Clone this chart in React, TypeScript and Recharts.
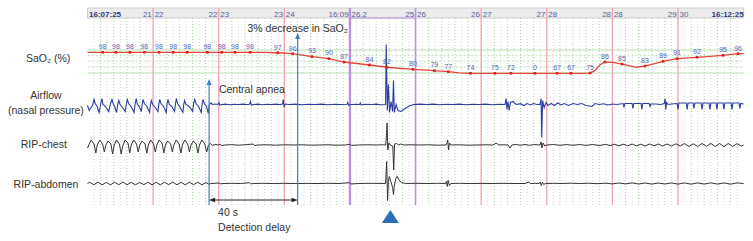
import React from 'react';
import {
  ComposedChart,
  Line,
  XAxis,
  YAxis,
  ReferenceLine,
  ReferenceArea,
  ReferenceDot,
} from 'recharts';

const W = 753;
const H = 241;
const FONT = '"Liberation Sans", Arial, sans-serif';

// ---------- time axis (seconds after 16:07:25) ----------
const T_END = 300;
const epochTimes = [30, 60, 90, 120, 150, 180, 210, 240, 270];
const epochLeftLabels = ['21', '22', '23', '16:09', '25', '26', '27', '28', '29'];
const epochRightLabels = ['22', '23', '24', '26.2', '26', '27', '28', '28', '30'];
const selectedEpoch = [120, 150];
const startClock = '16:07:25';
const endClock = '16:12:25';

// ---------- SaO2 (%) ----------
const saoTimes = [
  6.95, 13.0, 19.4, 26.0, 32.7, 39.2, 45.6, 54.8, 61.4, 67.4, 74.3,
  87.0, 93.8, 102.7, 110.4, 117.3, 128.9, 136.9, 148.8, 158.6, 165.0, 175.1,
  186.3, 193.6, 204.6, 214.7, 221.1, 229.8, 236.6, 244.4, 254.9, 263.2, 269.6,
  278.7, 290.6, 297.5,
];
const saoLabels = [
  '98', '98', '98', '98', '98', '98', '98', '98', '98', '98', '98',
  '97', '96', '93', '90', '87', '84', '82', '80', '79', '77', '74',
  '75', '72', '0', '67', '67', '75', '86', '85', '83', '89', '91',
  '92', '95', '96',
];
const saoLevels = [
  98, 98, 98, 98, 98, 98, 98, 98, 98, 98, 98,
  97.5, 96.4, 93, 90.7, 86.9, 83.5, 80.9, 78.6, 77, 75.8, 74,
  74, 74, 74, 74, 74, 74.3, 86.9, 84.6, 82.3, 87.7, 90.7,
  92.3, 94.6, 96.4,
];
const saoExtraTimes = [0, 80, 170, 226, 232, 234.5, 240, 251, 300];
const saoExtraLevels = [98, 98, 74.4, 74, 77, 84, 86.5, 80.9, 96.6];

// ---------- waveforms: [time s, deflection] ----------
const airflow: [number, number][] = [
  [0, -1], [0.8, -6], [1.6, -3],
  [2.3, -1], [3.0, 5], [3.5, 1], [4.4, -2], [5.3, -8],
  [6.0, 0], [6.6, 6], [7.1, 0], [8.2, -2], [9.7, -7],
  [10.5, 1], [11.2, 5], [11.7, 1], [12.4, -2], [13.3, -8],
  [13.8, 0], [14.3, 4], [14.9, 0], [16.0, -3], [17.3, -7],
  [17.7, 0], [18.2, 5], [18.8, 1], [19.9, -2], [21.3, -8],
  [21.8, 1], [22.3, 6], [22.8, 0], [23.7, -2], [24.6, -7],
  [25.0, 0], [25.4, 5], [26.0, 1], [27.2, -2], [28.4, -8],
  [28.8, 0], [29.2, 4], [29.8, 0], [31.0, -3], [32.2, -7],
  [32.6, 0], [33.0, 5], [33.6, 1], [34.8, -2], [36.0, -8],
  [36.4, 1], [36.8, 5], [37.4, 0], [38.6, -2], [39.8, -7],
  [40.2, 0], [40.6, 6], [41.2, 1], [42.4, -3], [43.6, -8],
  [44.0, 0], [44.4, 4], [45.0, 0], [46.5, -2], [48.1, -7],
  [48.5, 1], [49.0, 5], [49.6, 1], [50.8, -2], [52.0, -8],
  [52.4, 0], [52.8, 5], [53.4, 1], [54.4, -2], [55.3, -9],
  [55.7, 0], [56.4, 1.5], [57.2, 0], [58.5, 0.5], [59.6, 0], [60.1, 2], [60.5, -0.5],
  [61.5, 0], [63, 0.4], [65, -0.3], [67, 0.3], [69, 0], [71, 0.4], [73, 0],
  [74.1, 0.3], [74.5, 3], [74.9, -0.5], [76, 0], [78, 0.4], [80, -0.3], [82, 0.3],
  [84, 0], [86, 0.4], [88, 0], [89.2, 0.5], [89.5, 5], [89.9, -2], [90.5, 0.5],
  [92, 0], [95, 0.4], [98, -0.3], [101, 0.3], [104, 0], [107, 0.4], [110, -0.3],
  [113, 0.3], [116, 0], [118.7, 0.3], [119, 2], [119.4, -0.5], [120.5, 0], [123, 0.3],
  [124.4, 0], [124.7, 1.5], [125.1, -0.3], [127, 0.3], [130, 0], [132, 0.4], [134, -0.2],
  [136.3, 0], [136.6, 60], [137.1, -6], [137.6, 20], [138.1, -8], [138.8, 3],
  [139.5, -7], [139.9, 24], [140.3, -8], [141.1, 0], [142.0, -6], [143.3, -7],
  [145.2, -4], [147.5, -1], [149.3, 0],
  [152, 0.4], [155, 0], [158, 0.4], [161, -0.3], [164, 0.3], [167, 0], [170, 0.4],
  [173, -0.3], [176, 0.3], [179, 0], [182, 0.4], [185, -0.3], [188, 0.3],
  [190.9, 0], [191.4, 6], [191.8, -5], [192.3, 3], [192.8, -6], [193.4, 2],
  [194.6, 3], [196, 0], [198, 0.8], [199.5, -1], [201, 1], [202.5, -0.5], [204, 1],
  [205.5, 0], [206.9, 0], [207.4, 6], [207.7, -33], [208.1, 4], [208.8, -3],
  [209.7, 2], [210.6, -1], [212, 1], [213.5, -1], [215, 1.5], [216.5, -0.5],
  [218, 1], [220, -1], [222, 1], [224, 0], [226, 1], [228, -1], [230.7, -2],
  [232, 1], [234, 0], [236, 0.8], [238, -0.5], [240, 0.5], [242, 0],
  [244.9, 1], [245.3, -3], [245.7, 1], [249.0, 1], [249.4, -4], [249.8, 1],
  [253.1, 1], [253.5, -5], [253.9, 1], [256.8, 1], [257.2, -2], [257.6, 0.5],
  [260, 0.5], [262, 0], [263.7, 1], [264.1, 6], [264.4, -5], [264.8, 2], [265.5, 0],
  [267, 0.5], [269.6, 1], [270, -5], [270.4, 1.5], [273.8, 1.5], [274.2, -5],
  [274.6, 1.5], [276.9, 1.5], [277.3, -4], [277.7, 1.5], [280.6, 1.5], [281, -5],
  [281.4, 1.5], [284.2, 1.5], [284.6, -5], [285, 1.5], [287.4, 1.5], [287.8, -5],
  [288.2, 1.5], [290.6, 1.5], [291, -5], [291.4, 1.5], [294.3, 1.5], [294.7, -5],
  [295.1, 1.5], [297.9, 1.5], [298.3, -4], [298.7, 1], [300, 0.5],
];

const ripChest: [number, number][] = [
  [0, -3], [0.8, 1],
  [1.7, 5], [3.0, 1], [3.8, -8], [4.5, 0],
  [5.6, 5], [6.9, 1], [7.7, -7], [8.4, 0],
  [9.4, 4], [10.7, 1], [11.5, -9], [12.2, 0],
  [13.3, 5], [14.6, 1], [15.4, -9], [16.1, -1],
  [17.2, 5], [18.5, 2], [19.3, -8], [20.0, 0],
  [21.1, 5], [22.4, 1], [23.2, -7], [23.9, 0],
  [25.0, 4], [26.3, 1], [27.1, -8], [27.8, 0],
  [28.9, 5], [30.2, 1], [31.0, -7], [31.7, 0],
  [32.8, 5], [34.1, 2], [34.9, -8], [35.6, 0],
  [36.7, 4], [38.0, 1], [38.8, -7], [39.5, 0],
  [40.6, 5], [41.9, 1], [42.7, -8], [43.4, 0],
  [44.5, 5], [45.8, 1], [46.6, -7], [47.3, 0],
  [48.4, 4], [49.7, 1], [50.5, -8], [51.2, 0],
  [52.3, 5], [53.6, 1], [54.5, -7], [55.3, 0],
  [56.2, 1.5], [57.2, -0.5], [58.3, 0.5], [60.0, 0], [60.6, 1], [61.2, -0.5], [63, 0],
  [66, 0.3], [69, -0.2], [72, 0.2], [75.7, 1], [76.3, -0.5], [78, 0], [82, 0.2],
  [86, -0.2], [90, 0.2], [94, 0], [98, 0.2], [102, -0.2], [106, 0], [110, 0.2],
  [114, -0.2], [118, 0], [120, 0.8], [120.6, -0.4], [124, 0], [128, 0.2], [132, 0],
  [135, 0.2], [136.4, 0], [137.0, 22], [137.3, -5], [137.8, 2], [138.5, 0],
  [139.6, -1], [140.0, -25], [140.4, 1], [141.3, 1.5], [142.3, 0], [143.2, 1],
  [144.6, 0], [148, 0.2], [152, 0], [156, 0.2], [160, -0.2], [163.9, 0],
  [164.4, 2], [164.7, 5], [165.1, -5], [165.5, 2], [166.2, 0], [170, 0.2],
  [174, -0.2], [178, 0], [182, 0.2], [185.4, 0], [186.8, 2], [188.1, 0], [190, 0.2],
  [192.3, 0], [193.2, -3], [194.1, 0], [196, 0.5], [198, -0.3], [200, 0.5],
  [202, -0.3], [204, 0.4], [206.9, 0], [207.4, 3], [207.8, -3], [208.3, 2],
  [209.1, -1], [210, 0], [213, 0.5], [216, -0.3], [219, 0.4], [222, -0.3],
  [225, 0.5], [228, -0.4], [231, 0.5], [234, -0.5], [237, 0.6], [239, -0.6],
  [241, 0.8], [243, -0.8], [245, 0.8], [247, -0.8], [249, 1], [251, -0.9],
  [253, 0.8], [255, -1], [257, 1], [259, -0.8], [261, 1], [263, -1], [265, 1],
  [267, -1], [269, 1.2], [271, -1], [273, 1.5], [275, -1.5], [277, 1.2],
  [279, -1.5], [281, 1.5], [283, -1.3], [285, 1.6], [287, -1.5], [289, 1.5],
  [291, -1.6], [293, 1.5], [295, -1.5], [297, 1.4], [299, -1], [300, 0],
];

const ripAbdomen: [number, number][] = [
  [0, 0], [1, 1.2], [2.9, -1.2], [4.8, 1.3], [6.7, -1.3], [8.6, 1.1], [10.5, -1.4],
  [12.4, 1.3], [14.3, -1.2], [16.2, 1.4], [18.1, -1.3], [20.0, 1.2], [21.9, -1.4],
  [23.8, 1.2], [25.7, -1.2], [27.6, 1.3], [29.5, -1.3], [31.4, 1.2], [33.3, -1.4],
  [35.2, 1.3], [37.1, -1.2], [39.0, 1.4], [40.9, -1.3], [42.8, 1.2], [44.7, -1.3],
  [46.6, 1.3], [48.5, -1.2], [50.4, 1.3], [52.3, -1.3], [54.2, 1.0], [55.6, -0.8],
  [56.5, 0], [60, 0.5], [60.8, -0.3], [62, 0], [66, 0.2], [70, 0], [74, 0.8],
  [74.6, -0.3], [76, 0], [80, 0.2], [85, 0], [90, 0.2], [95, 0], [100, 0.1],
  [105, 0], [110, 0.2], [115, 0], [119.8, 0.8], [120.4, -0.5], [124, 0], [130, 0.2],
  [136.3, 0], [136.8, 22], [137.2, -17], [137.6, 2], [138.0, 7], [138.6, 3],
  [139.5, -4], [139.9, -11], [140.3, -2], [141.0, 5], [141.6, 7], [142.3, 4],
  [143.5, 1], [145.5, 0], [150, 0.2], [155, 0], [160, 0.2], [163.7, 0], [164.1, 2],
  [164.5, -3], [164.9, 3], [165.5, -2], [166.2, 0], [170, 0.2], [175, 0], [180, 0.1],
  [185, 0], [190, 0.2], [195, 0], [200, 0], [201.8, 1.5], [202.5, 0], [205, 0.2],
  [206.5, 0], [207.0, 1.5], [207.5, -2], [208.0, 1.5], [208.6, -1], [209.4, 0],
  [213, 0.2], [217, 0], [221, 0.3], [225, 0], [229, 0.3], [233, -0.2], [237, 0.3],
  [240, -0.4], [243, 0.5], [246, -0.4], [249, 0.6], [252, -0.5], [255, 0.5],
  [258, -0.6], [261, 0.5], [264, -0.5], [267, 0.6], [270, -0.6], [273, 0.6],
  [276, -0.7], [279, 0.6], [282, -0.6], [285, 0.7], [288, -0.6], [291, 0.6],
  [294, -0.7], [297, 0.6], [300, 0],
];

// ---------- annotations ----------
const apneaOnset = 55.6;
const detectionTime = 96.1;
const eventTime = 138.5;

// ---------- layout (rows = px from top, on the frame axis) ----------
const X0_PX = 87.5;
const PX_PER_S = 2.187;
const xDomain = [-X0_PX / PX_PER_S, (W - X0_PX) / PX_PER_S];
const HEADER_TOP = 8;
const HEADER_BOTTOM = 18;
const GRID_BOTTOM = 205;
const AIR_BASE = 104.5;
const CHEST_BASE = 145;
const ABD_BASE = 183.5;
const SAO_ROW_98 = 52.3;
const SAO_PX = 0.875;
const saoHi = 98 + SAO_ROW_98 / SAO_PX;
const saoDomain = [saoHi - H / SAO_PX, saoHi];
const chan = (b: number) => [b - H, b];
const saoSolidRows = [50, 73];
const saoDottedRows = [55.7, 61.3, 67];
const LABEL_T = -19;

const toPts = (a: [number, number][]) => a.map(([t, v]) => ({ t, v }));
const airData = toPts(airflow);
const chestData = toPts(ripChest);
const abdData = toPts(ripAbdomen);
const saoDots = saoTimes.map((t, i) => ({ t, v: saoLevels[i], label: saoLabels[i] }));
const saoTrace = [
  ...saoDots.map((d) => ({ t: d.t, v: d.v })),
  ...saoExtraTimes.map((t, i) => ({ t, v: saoExtraLevels[i] })),
].sort((a, b) => a.t - b.t);

const minorTimes: number[] = [];
for (let t = 3; t < T_END; t += 3) if (t % 30 !== 0) minorTimes.push(t);

type NoteProps = {
  t: number;
  row: number;
  text: string;
  anchor?: 'start' | 'middle' | 'end';
  size?: number;
  color?: string;
  weight?: string;
  k: string;
};
const note = ({ t, row, text, anchor = 'start', size = 10.5, color = '#333', weight = 'normal', k }: NoteProps) => (
  <ReferenceDot
    key={k}
    x={t}
    y={row}
    yAxisId="f"
    r={0}
    ifOverflow="visible"
    shape={(p: any) => (
      <text
        x={p.cx}
        y={p.cy}
        textAnchor={anchor}
        fontFamily={FONT}
        fontSize={size}
        fontWeight={weight}
        fill={color}
      >
        {text}
      </text>
    )}
  />
);

const upArrow = (color: string) => (p: any) => (
  <g>
    <line x1={p.x1} y1={p.y1} x2={p.x2} y2={p.y2 + 3} stroke={color} strokeWidth={1.2} />
    <polygon
      points={`${p.x2},${p.y2 - 1} ${p.x2 - 2.6},${p.y2 + 5} ${p.x2 + 2.6},${p.y2 + 5}`}
      fill={color}
    />
  </g>
);

const doubleArrow = (p: any) => (
  <g>
    <line x1={p.x1 + 3} y1={p.y1} x2={p.x2 - 3} y2={p.y2} stroke="#222" strokeWidth={1} />
    <polygon points={`${p.x1},${p.y1} ${p.x1 + 6},${p.y1 - 2.3} ${p.x1 + 6},${p.y1 + 2.3}`} fill="#222" />
    <polygon points={`${p.x2},${p.y2} ${p.x2 - 6},${p.y2 - 2.3} ${p.x2 - 6},${p.y2 + 2.3}`} fill="#222" />
  </g>
);

const saoDot = (p: any) => (
  <g key={`sd-${p.index}`}>
    <rect x={p.cx - 1.3} y={p.cy - 1.3} width={2.6} height={2.6} fill="#e0221e" />
    <text
      x={p.cx}
      y={p.cy - 3.2}
      textAnchor="middle"
      fontFamily={FONT}
      fontSize={7}
      fill="#5a64b4"
    >
      {p.payload.label}
    </text>
  </g>
);

export default function App() {
  const blue = '#3d7fc4';
  return (
    <div style={{ position: 'absolute', left: 0, top: 0, width: W, height: H, background: '#fff' }}>
      <ComposedChart width={W} height={H} margin={{ top: 0, right: 0, bottom: 0, left: 0 }}>
        <XAxis dataKey="t" type="number" domain={xDomain} allowDataOverflow hide />
        <YAxis yAxisId="f" type="number" domain={[0, H]} reversed allowDataOverflow hide />
        <YAxis yAxisId="sao" type="number" domain={saoDomain} allowDataOverflow hide />
        <YAxis yAxisId="air" type="number" domain={chan(AIR_BASE)} allowDataOverflow hide />
        <YAxis yAxisId="chest" type="number" domain={chan(CHEST_BASE)} allowDataOverflow hide />
        <YAxis yAxisId="abd" type="number" domain={chan(ABD_BASE)} allowDataOverflow hide />

        {/* header band */}
        <ReferenceArea
          yAxisId="f"
          x1={0}
          x2={T_END}
          y1={HEADER_TOP}
          y2={HEADER_BOTTOM}
          fill="#ebebeb"
          fillOpacity={1}
          stroke="#cfcfcf"
          ifOverflow="visible"
        />

        {/* minor dotted grid */}
        {minorTimes.map((t) => (
          <ReferenceLine
            key={`m${t}`}
            yAxisId="f"
            segment={[{ x: t, y: HEADER_BOTTOM }, { x: t, y: GRID_BOTTOM }]}
            stroke={t % 6 === 0 ? '#9fd396' : '#d9d9d9'}
            strokeDasharray="1 2"
            strokeWidth={1}
            ifOverflow="visible"
          />
        ))}

        {/* SaO2 horizontal grid */}
        {saoSolidRows.map((r) => (
          <ReferenceLine
            key={`hs${r}`}
            yAxisId="f"
            segment={[{ x: 0, y: r }, { x: T_END, y: r }]}
            stroke="#b5dfae"
            strokeWidth={1}
            ifOverflow="visible"
          />
        ))}
        {saoDottedRows.map((r) => (
          <ReferenceLine
            key={`hd${r}`}
            yAxisId="f"
            segment={[{ x: 0, y: r }, { x: T_END, y: r }]}
            stroke="#b5dfae"
            strokeDasharray="2 2"
            strokeWidth={1}
            ifOverflow="visible"
          />
        ))}

        {/* epoch lines */}
        {epochTimes.map((t) => {
          const sel = selectedEpoch.includes(t);
          return (
            <ReferenceLine
              key={`e${t}`}
              yAxisId="f"
              segment={[{ x: t, y: HEADER_TOP }, { x: t, y: GRID_BOTTOM }]}
              stroke={sel ? '#bb92dc' : '#f2a3ad'}
              strokeWidth={sel ? (t === selectedEpoch[0] ? 2.4 : 1.6) : 1.3}
              ifOverflow="visible"
            />
          );
        })}
        <ReferenceLine
          yAxisId="f"
          segment={[{ x: selectedEpoch[0], y: HEADER_BOTTOM }, { x: selectedEpoch[1], y: HEADER_BOTTOM }]}
          stroke="#bb92dc"
          strokeWidth={1.2}
          ifOverflow="visible"
        />

        {/* traces */}
        <Line
          data={saoTrace}
          dataKey="v"
          yAxisId="sao"
          type="linear"
          stroke="#e3473d"
          strokeWidth={1.3}
          dot={false}
          activeDot={false}
          isAnimationActive={false}
        />
        <Line
          data={saoDots}
          dataKey="v"
          yAxisId="sao"
          stroke="none"
          dot={saoDot}
          activeDot={false}
          isAnimationActive={false}
        />
        <Line
          data={airData}
          dataKey="v"
          yAxisId="air"
          type="linear"
          stroke="#2b3d9e"
          strokeWidth={1.1}
          dot={false}
          activeDot={false}
          isAnimationActive={false}
        />
        <Line
          data={chestData}
          dataKey="v"
          yAxisId="chest"
          type="linear"
          stroke="#333"
          strokeWidth={1}
          dot={false}
          activeDot={false}
          isAnimationActive={false}
        />
        <Line
          data={abdData}
          dataKey="v"
          yAxisId="abd"
          type="linear"
          stroke="#333"
          strokeWidth={1}
          dot={false}
          activeDot={false}
          isAnimationActive={false}
        />

        {/* annotation arrows */}
        <ReferenceLine
          yAxisId="f"
          segment={[{ x: apneaOnset, y: GRID_BOTTOM }, { x: apneaOnset, y: 80 }]}
          shape={upArrow(blue)}
          ifOverflow="visible"
        />
        <ReferenceLine
          yAxisId="f"
          segment={[{ x: detectionTime, y: GRID_BOTTOM }, { x: detectionTime, y: 34 }]}
          shape={upArrow(blue)}
          ifOverflow="visible"
        />
        <ReferenceLine
          yAxisId="f"
          segment={[{ x: apneaOnset, y: 200 }, { x: detectionTime, y: 200 }]}
          shape={doubleArrow}
          ifOverflow="visible"
        />
        <ReferenceDot
          x={eventTime}
          y={216.5}
          yAxisId="f"
          r={0}
          ifOverflow="visible"
          shape={(p: any) => (
            <polygon
              points={`${p.cx},${p.cy - 6.5} ${p.cx - 8.5},${p.cy + 6.5} ${p.cx + 8.5},${p.cy + 6.5}`}
              fill="#2c6db5"
            />
          )}
        />

        {/* header texts */}
        {note({ k: 'hs', t: 0.7, row: 16.5, text: startClock, size: 8, color: '#2d3a78', weight: 'bold' })}
        {note({ k: 'he', t: T_END, row: 16.5, text: endClock, anchor: 'end', size: 8, color: '#2d3a78', weight: 'bold' })}
        {epochTimes.map((t, i) =>
          note({ k: `hl${t}`, t: t - 0.6, row: 16.5, text: epochLeftLabels[i], anchor: 'end', size: 8, color: '#55649f' })
        )}
        {epochTimes.map((t, i) =>
          note({ k: `hr${t}`, t: t + 0.7, row: 16.5, text: epochRightLabels[i], anchor: 'start', size: 8, color: '#55649f' })
        )}

        {/* channel names */}
        {note({ k: 'c0', t: LABEL_T + 1, row: 62, text: 'SaO₂ (%)', anchor: 'middle', size: 10.5 })}
        {note({ k: 'c1', t: LABEL_T, row: 99, text: 'Airflow', anchor: 'middle', size: 10.5 })}
        {note({ k: 'c2', t: LABEL_T, row: 114, text: '(nasal pressure)', anchor: 'middle', size: 10.5 })}
        {note({ k: 'c3', t: LABEL_T - 1, row: 148, text: 'RIP-chest', anchor: 'middle', size: 10.5 })}
        {note({ k: 'c4', t: LABEL_T, row: 188, text: 'RIP-abdomen', anchor: 'middle', size: 10.5 })}

        {/* annotation texts */}
        {note({ k: 'a0', t: detectionTime, row: 32, text: '3% decrease in SaO₂', anchor: 'middle', size: 10.5 })}
        {note({ k: 'a1', t: apneaOnset + 4.5, row: 93, text: 'Central apnea', size: 10.5 })}
        {note({ k: 'a2', t: apneaOnset + 4.1, row: 216, text: '40 s', size: 10.5 })}
        {note({ k: 'a3', t: apneaOnset + 4.1, row: 231, text: 'Detection delay', size: 10.5 })}
      </ComposedChart>
    </div>
  );
}
